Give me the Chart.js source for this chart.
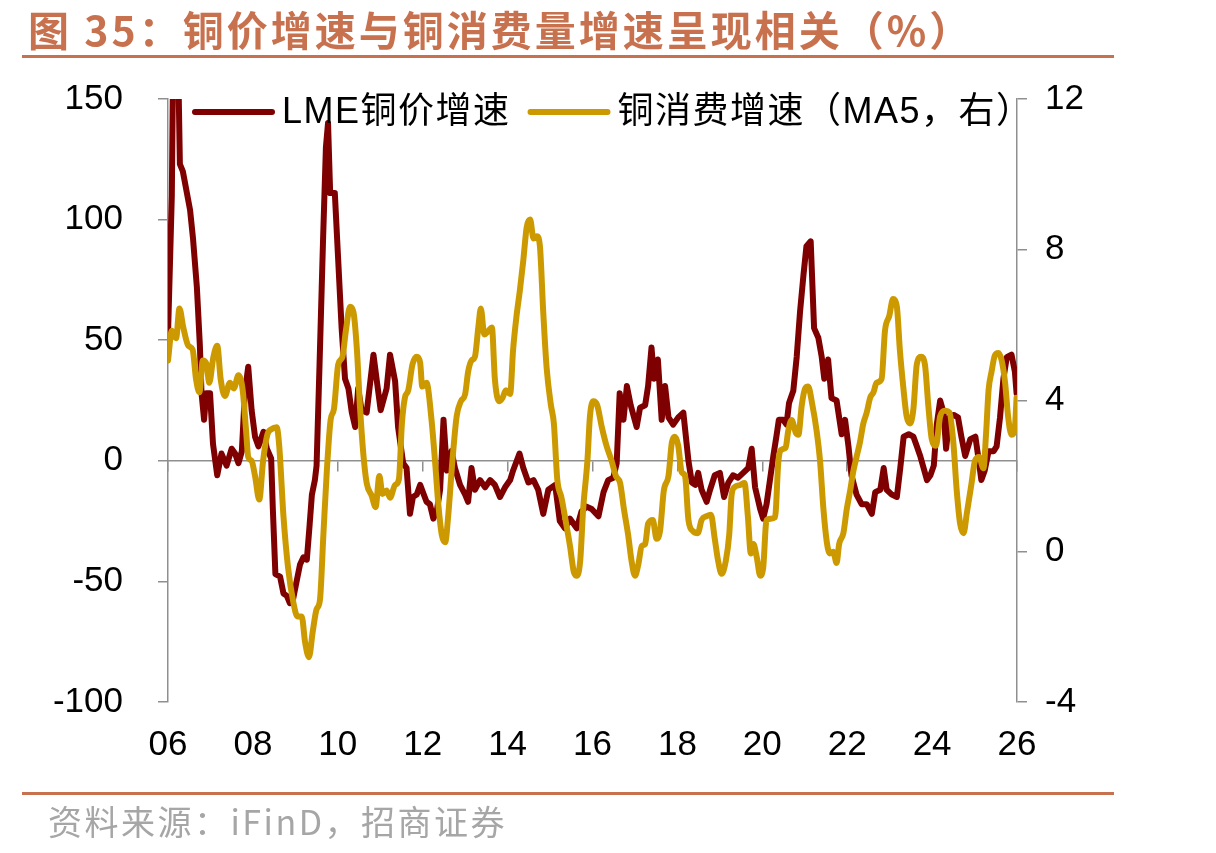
<!DOCTYPE html>
<html lang="zh-CN">
<head>
<meta charset="utf-8">
<title>铜价增速与铜消费量增速</title>
<script src="https://cdn.jsdelivr.net/npm/chart.js@4.4.1/dist/chart.umd.min.js"></script>
<style>
  html, body { margin: 0; padding: 0; background: #fff; }
  #wrap { position: relative; width: 1216px; height: 853px; overflow: hidden; }
  #chart { position: absolute; left: 0; top: 0; }
  #title {
    position: absolute; left: 28px; top: 6px;
    font: bold 41px "Noto Sans CJK SC", sans-serif; line-height: 44px;
    color: #C8714E; letter-spacing: 3px; white-space: nowrap;
  }
  .rule { position: absolute; left: 22px; width: 1092px; height: 3px; background: #C8714E; }
  #source {
    position: absolute; left: 48px; top: 802px;
    font: 34px "Noto Sans CJK SC", sans-serif; line-height: 38px;
    color: #A6A6A6; letter-spacing: 2.5px; white-space: nowrap;
  }
</style>
</head>
<body>
<div id="wrap">
  <canvas id="chart" width="1216" height="853"></canvas>
  <div id="title">图 35：铜价增速与铜消费量增速呈现相关（%）</div>
  <div class="rule" style="top:55px"></div>
  <div class="rule" style="top:792px"></div>
  <div id="source">资料来源：iFinD，招商证券</div>
</div>
<script>
// LME 铜价增速 (左轴, %)
const lmeYears = [
  2006.00, 2006.09, 2006.12, 2006.24, 2006.28, 2006.35, 2006.52, 2006.59, 2006.68, 2006.75, 2006.79, 2006.85, 2006.90, 2006.99,
  2007.06, 2007.16, 2007.26, 2007.38, 2007.50, 2007.58, 2007.66, 2007.74, 2007.81, 2007.89, 2007.97,
  2008.05, 2008.13, 2008.25, 2008.33, 2008.43, 2008.47, 2008.53, 2008.64, 2008.72, 2008.80, 2008.87, 2008.95,
  2009.03, 2009.11, 2009.19, 2009.27, 2009.33, 2009.39, 2009.46, 2009.50, 2009.57, 2009.65, 2009.72, 2009.77, 2009.82, 2009.93,
  2010.01, 2010.09, 2010.17, 2010.25, 2010.33, 2010.41, 2010.48, 2010.56, 2010.68, 2010.84, 2010.92,
  2011.01, 2011.15, 2011.23, 2011.35, 2011.42, 2011.54, 2011.62, 2011.70, 2011.77, 2011.86, 2011.94,
  2012.09, 2012.17, 2012.25, 2012.33, 2012.41, 2012.49, 2012.57, 2012.68, 2012.76, 2012.88,
  2013.00, 2013.07, 2013.15, 2013.23, 2013.35, 2013.47, 2013.59, 2013.70, 2013.82, 2013.94,
  2014.06, 2014.13, 2014.28, 2014.37, 2014.49, 2014.61, 2014.72, 2014.84, 2014.96,
  2015.12, 2015.23, 2015.35, 2015.47, 2015.63, 2015.74, 2015.86, 2015.98,
  2016.14, 2016.26, 2016.37, 2016.49, 2016.57, 2016.64, 2016.73, 2016.81, 2016.90,
  2017.04, 2017.12, 2017.24, 2017.31, 2017.39, 2017.45, 2017.54, 2017.63, 2017.71, 2017.79, 2017.90,
  2018.02, 2018.14, 2018.26, 2018.34, 2018.42, 2018.49, 2018.57, 2018.69, 2018.77, 2018.88,
  2019.00, 2019.10, 2019.20, 2019.31, 2019.43, 2019.55, 2019.67, 2019.75, 2019.83, 2019.95,
  2020.02, 2020.10, 2020.18, 2020.26, 2020.34, 2020.39, 2020.49, 2020.57, 2020.63, 2020.73, 2020.81, 2020.89, 2020.97,
  2021.04, 2021.14, 2021.22, 2021.32, 2021.40, 2021.46, 2021.55, 2021.63, 2021.75, 2021.87, 2021.95,
  2022.03, 2022.10, 2022.22, 2022.34, 2022.46, 2022.58, 2022.66, 2022.78, 2022.86, 2022.93,
  2023.05, 2023.17, 2023.25, 2023.33, 2023.45, 2023.56, 2023.64, 2023.72, 2023.88, 2023.96,
  2024.04, 2024.11, 2024.19, 2024.27, 2024.33, 2024.41, 2024.51, 2024.61, 2024.69, 2024.78, 2024.90,
  2025.02, 2025.10, 2025.16, 2025.24, 2025.33, 2025.45, 2025.52, 2025.60, 2025.68, 2025.76, 2025.87, 2025.95, 2025.99
];
const lmeValues = [
  52, 110, 165, 165, 123, 120, 104, 92, 72, 48, 28, 17, 28, 28,
  7, -6, 3, -2, 5, 3, -1, 4, 28, 39, 21,
  10, 6, 12, 5, 1, -20, -47, -48, -55, -56, -59, -57,
  -50, -43, -40, -41, -28, -14, -8, -2, 40, 90, 130, 140, 111, 111,
  83, 55, 34, 30, 20, 14, 30, 21, 20, 44, 33,
  21, 30, 44, 33, 14, -1, -3, -22, -15, -14, -10,
  -17, -18, -24, -21, -12, 17, -4, 4, -3, -10,
  -14, -17, -3, -12, -8, -11, -8, -10, -15, -11,
  -8, -4, 3, -3, -9, -8, -12, -22, -12,
  -10, -25, -28, -24, -28, -21, -19, -20,
  -23, -13, -8, -7, -1, 28, 17, 31, 23,
  14, 22, 23, 31, 47, 34, 42, 17, 31, 18, 15,
  18, 20, 0, -9, -10, -5, -12, -17, -12, -6,
  -5, -15, -9, -6, -7, -5, -3, 5, -11, -20,
  -24, -18, -8, 2, 11, 17, 17, 15, 24, 29, 43, 62, 77,
  89, 91, 55, 51, 43, 34, 42, 26, 25, 11, 17,
  6, -6, -14, -18, -18, -22, -13, -12, -3, -12,
  -14, -15, -3, 10, 11, 10, 6, 2, -8, -6,
  -2, 15, 25, 20, 5, 18, 19, 18, 10, 2, 9,
  10, 0, -8, -4, 4, 4, 6, 18, 34, 43, 44, 37, 28
];

// 铜消费增速 MA5 (右轴, %)
const useYears = [
  2006.00, 2006.09, 2006.19, 2006.27, 2006.36, 2006.48, 2006.58, 2006.66, 2006.74, 2006.82, 2006.91, 2006.97,
  2007.07, 2007.16, 2007.24, 2007.34, 2007.46, 2007.55, 2007.66, 2007.76, 2007.84, 2007.89, 2007.97,
  2008.05, 2008.15, 2008.24, 2008.34, 2008.44, 2008.56, 2008.62, 2008.72, 2008.83, 2008.95,
  2009.05, 2009.15, 2009.23, 2009.32, 2009.41, 2009.50, 2009.58, 2009.66, 2009.74, 2009.83, 2009.91,
  2010.01, 2010.11, 2010.19, 2010.29, 2010.37, 2010.45, 2010.52, 2010.60, 2010.68, 2010.80, 2010.89, 2010.98,
  2011.05, 2011.15, 2011.23, 2011.35, 2011.44, 2011.51, 2011.58, 2011.66, 2011.76, 2011.86, 2011.94, 2011.99,
  2012.09, 2012.20, 2012.29, 2012.37, 2012.45, 2012.53, 2012.60, 2012.70, 2012.80, 2012.90,
  2013.00, 2013.07, 2013.15, 2013.23, 2013.31, 2013.37, 2013.45, 2013.55, 2013.63, 2013.70, 2013.80, 2013.88, 2013.96,
  2014.06, 2014.13, 2014.21, 2014.29, 2014.37, 2014.45, 2014.53, 2014.61, 2014.69, 2014.76, 2014.84, 2014.92,
  2015.02, 2015.09, 2015.17, 2015.27, 2015.38, 2015.47, 2015.56, 2015.63, 2015.71, 2015.78, 2015.88, 2015.94,
  2016.02, 2016.11, 2016.22, 2016.33, 2016.45, 2016.55, 2016.65, 2016.74, 2016.84, 2016.92,
  2017.00, 2017.08, 2017.16, 2017.24, 2017.31, 2017.42, 2017.51, 2017.59, 2017.68, 2017.79, 2017.87, 2017.94,
  2018.02, 2018.10, 2018.18, 2018.26, 2018.37, 2018.48, 2018.57, 2018.69, 2018.79, 2018.88, 2018.96,
  2019.04, 2019.14, 2019.22, 2019.28, 2019.36, 2019.48, 2019.58, 2019.66, 2019.73, 2019.79, 2019.87, 2019.95,
  2020.02, 2020.10, 2020.30, 2020.38, 2020.46, 2020.55, 2020.61, 2020.69, 2020.79, 2020.85, 2020.93,
  2021.01, 2021.08, 2021.18, 2021.28, 2021.36, 2021.44, 2021.52, 2021.59, 2021.67, 2021.75, 2021.81, 2021.91, 2021.99,
  2022.07, 2022.14, 2022.22, 2022.30, 2022.38, 2022.46, 2022.54, 2022.62, 2022.69, 2022.81, 2022.89, 2022.99,
  2023.08, 2023.17, 2023.24, 2023.32, 2023.40, 2023.48, 2023.56, 2023.64, 2023.74, 2023.83, 2023.91, 2023.99,
  2024.09, 2024.19, 2024.30, 2024.41, 2024.50, 2024.58, 2024.66, 2024.74, 2024.82, 2024.93,
  2025.01, 2025.11, 2025.21, 2025.27, 2025.33, 2025.40, 2025.48, 2025.56, 2025.64, 2025.72, 2025.79, 2025.87, 2025.95, 2025.99
];
const useValues = [
  5.06, 5.85, 5.65, 6.44, 5.94, 5.45, 5.35, 4.57, 4.22, 5.06, 4.96, 4.47,
  5.16, 5.45, 4.57, 4.12, 4.47, 4.32, 4.67, 4.27, 3.19, 2.5, 2.4,
  2.0, 1.37, 2.4, 3.09, 3.24, 3.29, 2.8, 0.93, -0.45, -1.34,
  -1.73, -1.73, -2.42, -2.81, -2.13, -1.54, -1.29, 0.43, 2.1, 3.48, 3.78,
  4.96, 5.16, 5.85, 6.49, 6.34, 5.35, 3.88, 2.6, 1.81, 1.47, 1.17, 2.0,
  1.52, 1.61, 1.42, 1.76, 1.91, 3.39, 4.07, 4.27, 4.96, 5.16, 5.0, 4.37,
  4.47, 3.58, 2.4, 1.22, 0.43, 0.24, 0.93, 2.4, 3.58, 3.98,
  4.17, 4.76, 5.06, 5.16, 5.94, 6.44, 5.75, 5.85, 5.94, 4.57, 3.98, 4.07, 4.27,
  4.17, 5.35, 6.24, 6.93, 7.72, 8.6, 8.8, 8.3, 8.36, 8.11, 6.34, 4.86,
  3.88, 3.39, 1.91, 1.42, 0.73, 0.14, -0.55, -0.65, -0.26, 1.12, 2.4, 3.58,
  3.98, 3.88, 3.29, 2.8, 2.4, 2.0, 1.81, 1.12, 0.43, -0.26,
  -0.65, -0.35, 0.14, 0.19, 0.73, 0.83, 0.33, 0.53, 1.61, 2.0, 2.89, 3.04,
  2.8, 2.1, 2.0, 0.83, 0.53, 0.48, 0.83, 0.93, 0.97, 0.33, -0.26,
  -0.6, -0.26, 0.43, 1.52, 1.71, 1.76, 1.81, 0.93, -0.06, 0.19, -0.16, -0.65,
  -0.45, 0.83, 0.9, 2.4, 2.7, 2.75, 3.19, 3.48, 3.14, 3.09, 3.88,
  4.32, 4.37, 3.88, 3.19, 2.4, 1.12, 0.24, -0.06, -0.01, -0.31, 0.19, 0.48, 1.12,
  1.61, 2.1, 2.5, 2.89, 3.39, 3.68, 4.07, 4.22, 4.47, 4.57, 5.85, 6.24,
  6.69, 6.49, 5.35, 4.37, 3.58, 3.39, 3.78, 4.96, 5.16, 4.96, 3.88, 2.99,
  2.8, 3.58, 3.73, 3.68, 2.89, 1.61, 0.73, 0.48, 1.02, 1.81,
  2.4, 2.5, 2.2, 3.09, 4.27, 4.76, 5.2, 5.26, 5.06, 4.47, 3.58, 3.09, 3.29, 4.07
];

const yearRange = [2006, 2026];
const leftRange = [-100, 150];
const rightRange = [-4, 12];

const AXIS_GREY = '#8F8F8F';
const tickFont = { family: '"Liberation Sans", Arial, sans-serif', size: 35 };

// 图例画在绘图区内部顶端：线段 + 文字
const lineLegend = {
  id: 'lineLegend',
  afterDatasetsDraw(chart) {
    const ctx = chart.ctx;
    const area = chart.chartArea;
    const y = area.top + 13;
    let x = area.left + 27;
    ctx.save();
    ctx.font = '36px "Liberation Sans", "Noto Sans CJK SC", sans-serif';
    ctx.letterSpacing = '1.5px';
    ctx.textBaseline = 'middle';
    chart.data.datasets.forEach(ds => {
      ctx.strokeStyle = ds.borderColor;
      ctx.lineWidth = ds.borderWidth;
      ctx.lineCap = 'round';
      ctx.beginPath();
      ctx.moveTo(x, y);
      ctx.lineTo(x + 77, y);
      ctx.stroke();
      x += 87;
      ctx.fillStyle = '#000';
      ctx.fillText(ds.label, x, y + 1);
      x += ctx.measureText(ds.label).width + 20;
    });
    ctx.restore();
  }
};

function initChart() {
  const el = document.getElementById('chart');
  new Chart(el, {
    type: 'line',
    data: {
      datasets: [
        {
          label: 'LME铜价增速',
          data: lmeYears.map((x, i) => ({ x, y: lmeValues[i] })),
          yAxisID: 'y',
          borderColor: '#7F0000',
          borderWidth: 6,
          pointRadius: 0,
          tension: 0,
          borderJoinStyle: 'round',
          borderCapStyle: 'round',
          order: 1
        },
        {
          label: '铜消费增速（MA5，右）',
          data: useYears.map((x, i) => ({ x, y: useValues[i] })),
          yAxisID: 'y1',
          borderColor: '#CC9A00',
          borderWidth: 6,
          pointRadius: 0,
          cubicInterpolationMode: 'monotone',
          borderJoinStyle: 'round',
          borderCapStyle: 'round',
          order: 0
        }
      ]
    },
    options: {
      responsive: false,
      animation: false,
      devicePixelRatio: 1,
      layout: { padding: { top: 99, left: 0, right: 0, bottom: 0 } },
      plugins: { legend: { display: false }, tooltip: { enabled: false } },
      scales: {
        // 零轴：横线 + 向下刻度
        x: {
          type: 'linear', min: yearRange[0], max: yearRange[1],
          position: { y: 0 },
          ticks: { display: false, stepSize: 2 },
          grid: { drawOnChartArea: false, tickLength: 10, color: AXIS_GREY, lineWidth: 1.5 },
          border: { color: AXIS_GREY, width: 1.5 }
        },
        // 底部年份标签
        xl: {
          type: 'linear', min: yearRange[0], max: yearRange[1],
          position: 'bottom',
          ticks: {
            stepSize: 2, autoSkip: false, maxRotation: 0, padding: 22,
            color: '#000', font: tickFont,
            callback: v => String(v).slice(2)
          },
          grid: { display: false, drawTicks: false },
          border: { display: false },
          afterFit(s) { s.height = 151; }
        },
        y: {
          position: 'left', min: leftRange[0], max: leftRange[1],
          ticks: { stepSize: 50, padding: 35, color: '#000', font: tickFont },
          grid: { drawOnChartArea: false, tickLength: 10, color: AXIS_GREY, lineWidth: 1.5 },
          border: { color: AXIS_GREY, width: 1.5 },
          afterFit(s) { s.width = 168; }
        },
        y1: {
          position: 'right', min: rightRange[0], max: rightRange[1],
          ticks: { stepSize: 4, padding: 18, color: '#000', font: tickFont },
          grid: { drawOnChartArea: false, tickLength: 10, color: AXIS_GREY, lineWidth: 1.5 },
          border: { color: AXIS_GREY, width: 1.5 },
          afterFit(s) { s.width = 199; }
        }
      }
    },
    plugins: [lineLegend]
  });
}

document.addEventListener('DOMContentLoaded', initChart);
</script>
</body>
</html>
